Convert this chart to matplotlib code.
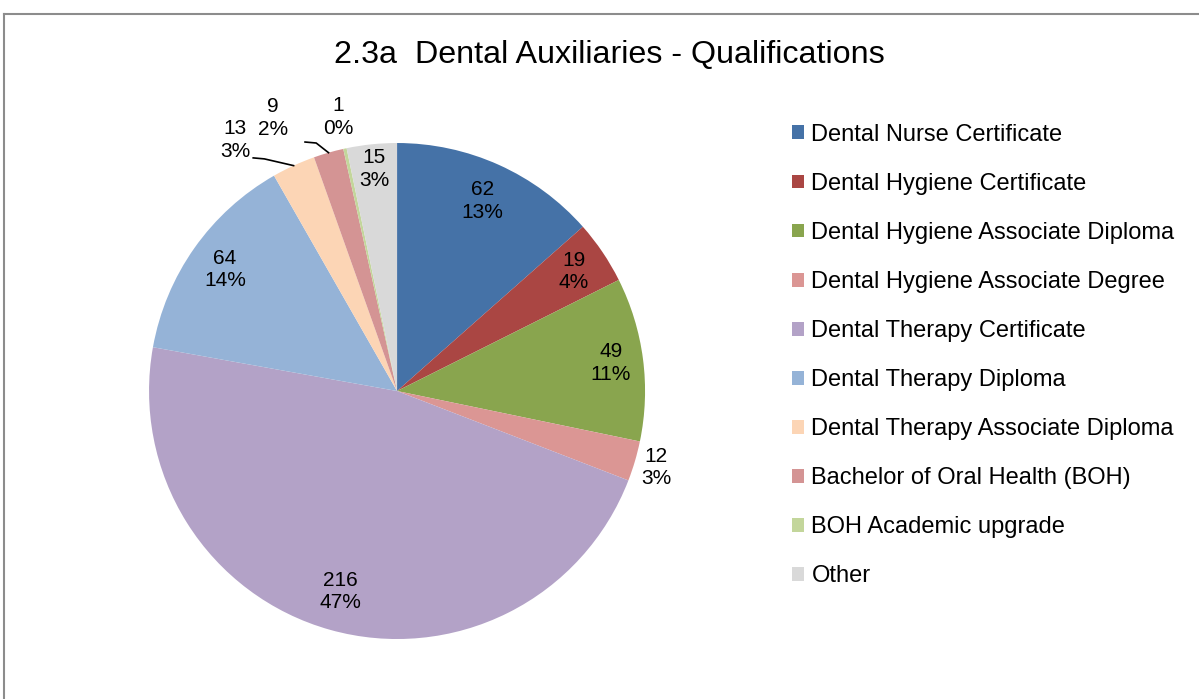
import matplotlib.pyplot as plt
import numpy as np
from matplotlib.lines import Line2D

plt.rcParams['font.family'] = ['Liberation Sans', 'DejaVu Sans']

# datos
categorias = ['Dental Nurse Certificate', 'Dental Hygiene Certificate',
              'Dental Hygiene Associate Diploma', 'Dental Hygiene Associate Degree',
              'Dental Therapy Certificate', 'Dental Therapy Diploma',
              'Dental Therapy Associate Diploma', 'Bachelor of Oral Health (BOH)',
              'BOH Academic upgrade', 'Other']
valores = [62, 19, 49, 12, 216, 64, 13, 9, 1, 15]
colores = ['#4572A7', '#AA4643', '#89A54E', '#DB9694', '#B3A2C7',
           '#95B3D7', '#FCD5B5', '#D49494', '#C3D69B', '#D9D9D9']

# radio relativo de las etiquetas dentro del pastel
radio_et = [0.84, 0.86, 0.87, 1.09, 0.84, 0.85, 1.0, 1.0, 1.0, 0.9]

fig = plt.figure(figsize=(11.99, 6.99), dpi=100)

# marco
fig.add_artist(Line2D([4/1199, 4/1199], [0, 1 - 14/699], color='#8c8c8c', lw=1.5))
fig.add_artist(Line2D([4/1199, 1], [1 - 14/699, 1 - 14/699], color='#8c8c8c', lw=1.5))

fig.text(0.508, 1 - 55/699, '2.3a  Dental Auxiliaries - Qualifications',
         ha='center', va='center', fontsize=23.2)

ax = fig.add_axes([0.1243, 0.0858, 0.4137, 0.7096])
wedges, _ = ax.pie(valores, colors=colores, startangle=90, counterclock=False,
                   radius=1.0)
ax.set_xlim(-1, 1)
ax.set_ylim(-1, 1)
ax.set_aspect('equal')

total = sum(valores)
# etiquetas externas: posicion y arranque de la linea guia (coord. de datos)
externas = {6: (-0.653, 1.012), 7: (-0.50, 1.10), 8: (-0.238, 1.105)}
guias = {6: (-0.58, 0.94), 7: (-0.371, 1.004)}
for i, w in enumerate(wedges):
    ang = np.deg2rad((w.theta1 + w.theta2) / 2)
    pct = round(100 * valores[i] / total)
    txt = '%d\n%d%%' % (valores[i], pct)
    if i in externas:
        x, y = externas[i]
    else:
        x, y = radio_et[i] * np.cos(ang), radio_et[i] * np.sin(ang)
    ax.text(x, y, txt, ha='center', va='center', fontsize=15, linespacing=1.25)
    if i in guias:
        ex, ey = np.cos(ang), np.sin(ang)
        x0, y0 = guias[i]
        ax.plot([x0, x0 + 0.045, ex], [y0, y0 - 0.004, ey], color='black',
                lw=1.2, clip_on=False)

fig.legend(wedges, categorias, loc='upper left',
           bbox_to_anchor=(780/1199, 1 - 112/699), frameon=False,
           fontsize=17, handlelength=0.53, handleheight=0.53,
           handletextpad=0.3, labelspacing=1.145, borderpad=0)

fig.savefig('out.png', dpi=100)
